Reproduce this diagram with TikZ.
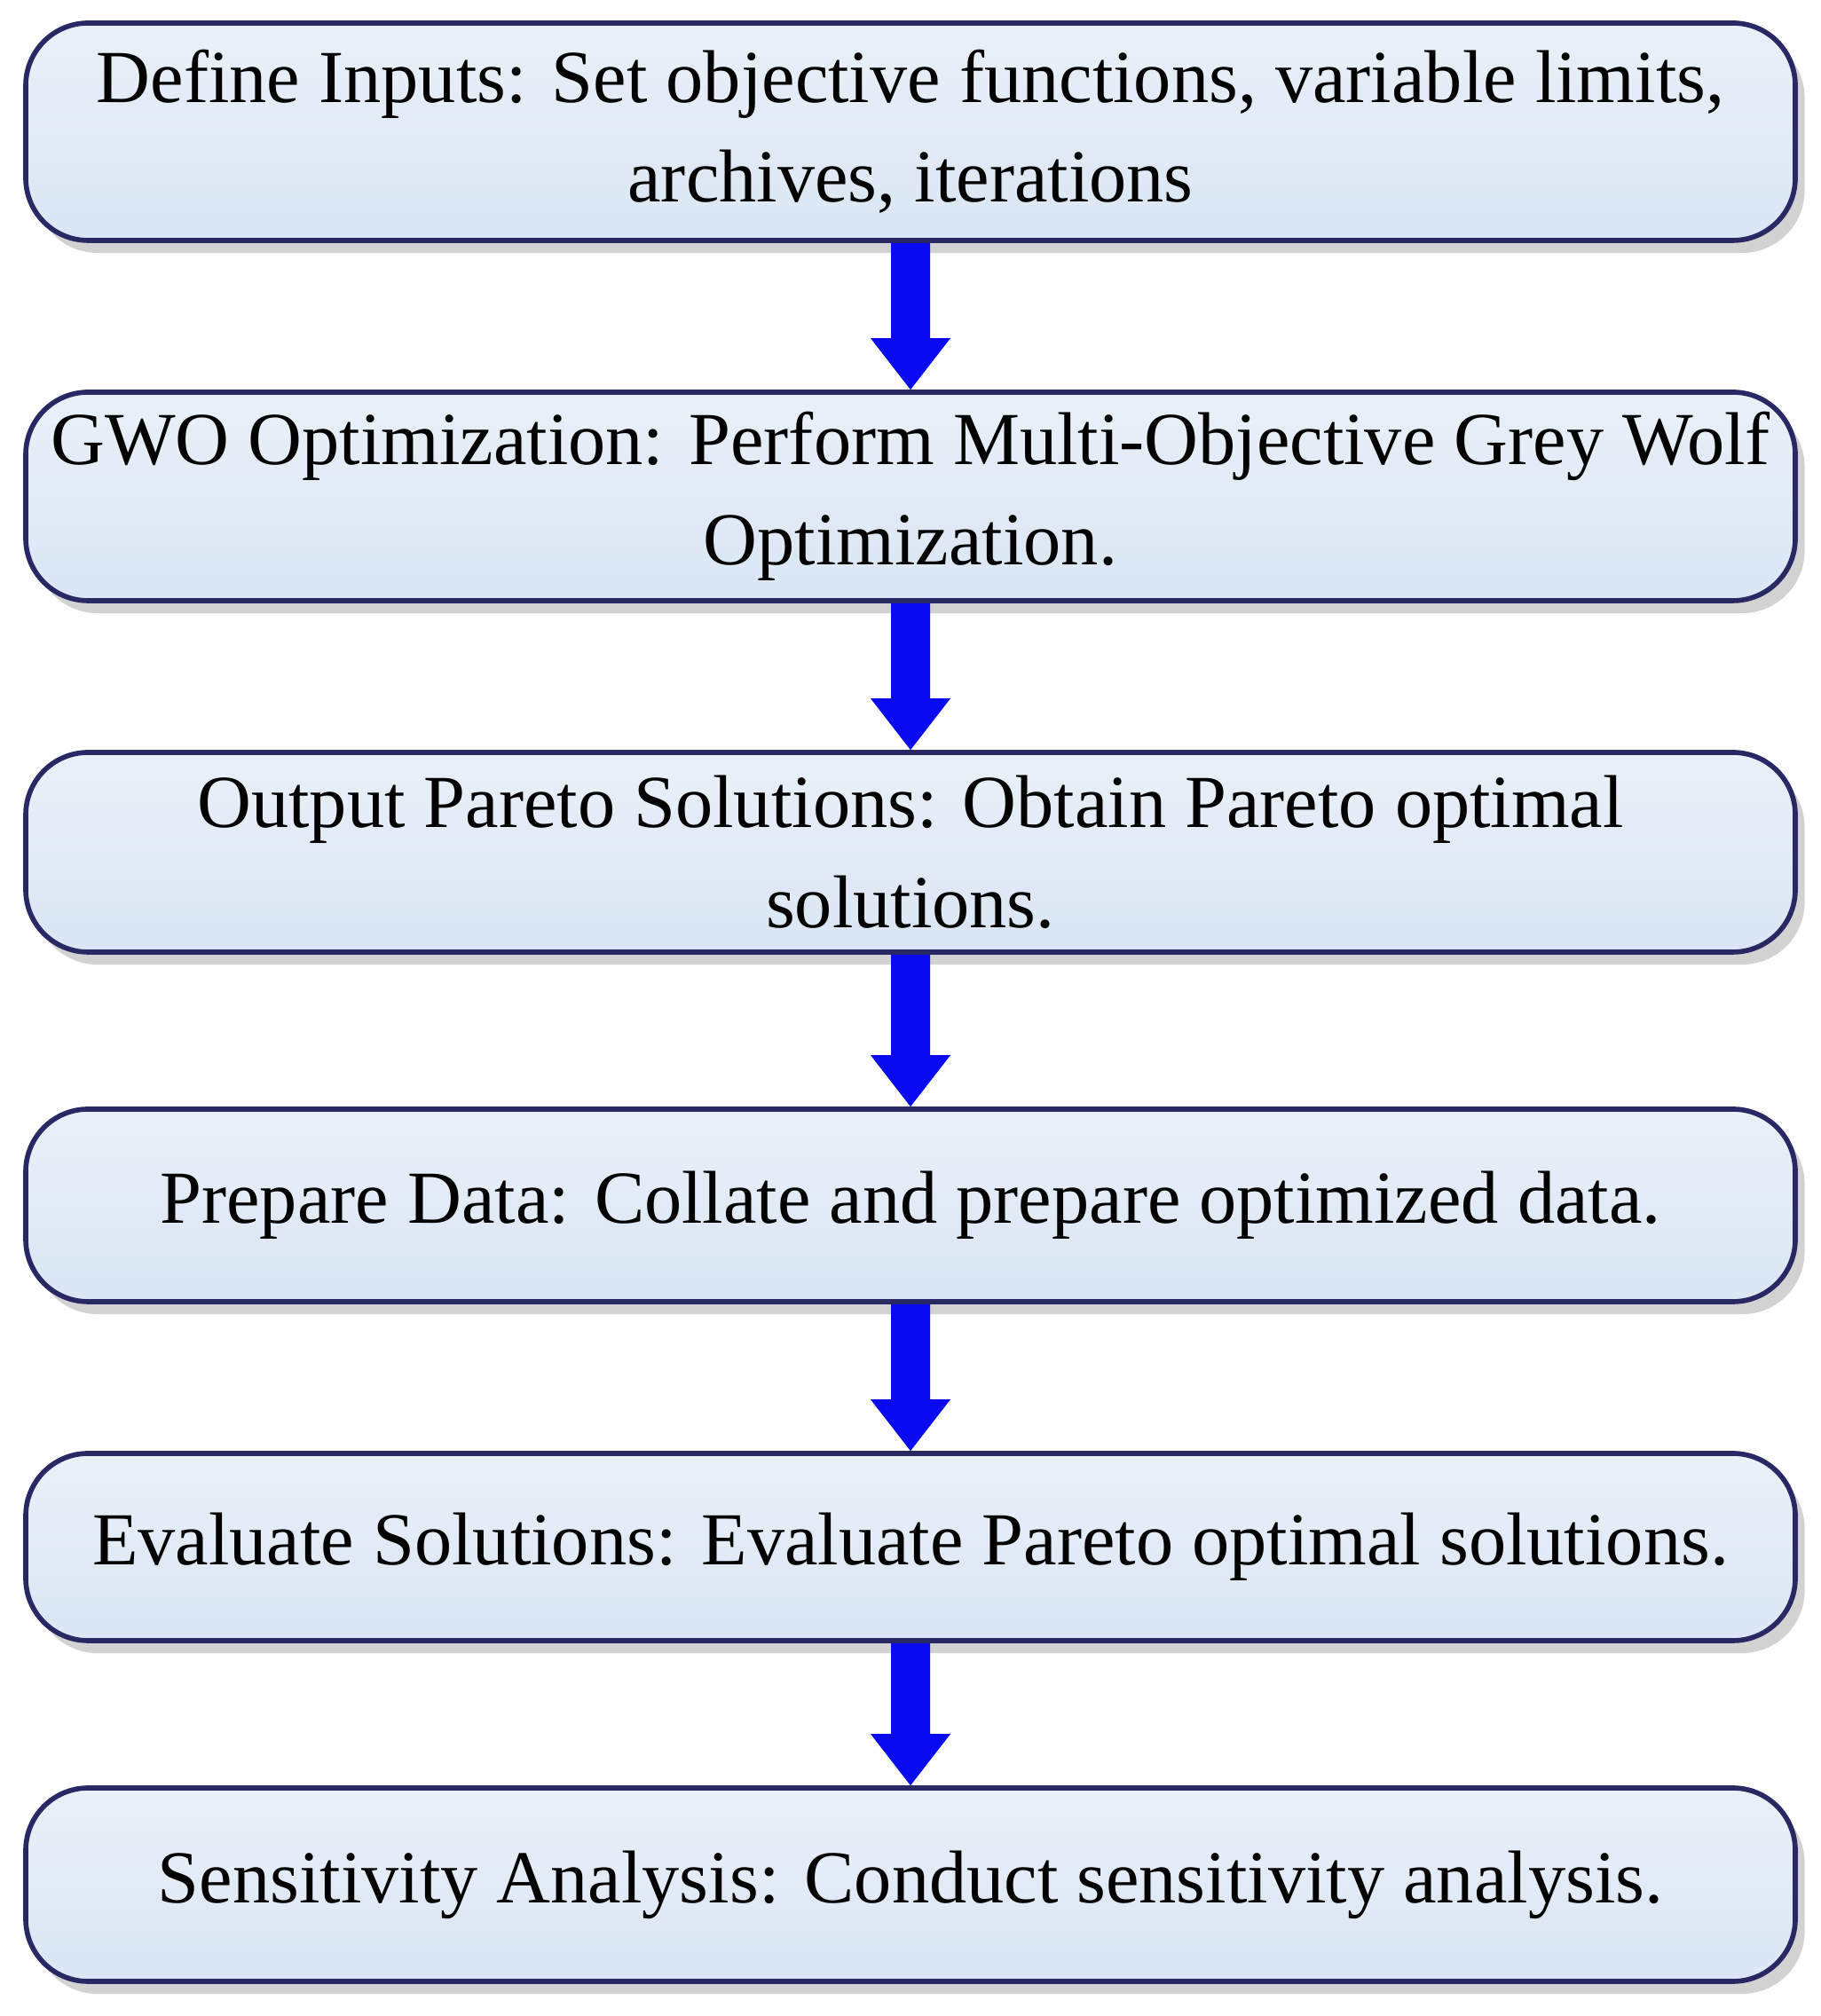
\documentclass[tikz,border=0pt]{standalone}
\usepackage{fontspec}
\setmainfont{Liberation Serif}
\usetikzlibrary{shadows,calc}
\definecolor{boxfill}{RGB}{218,230,244}
\definecolor{boxline}{RGB}{40,40,100}
\definecolor{arr}{RGB}{10,10,240}
\tikzset{
  stepbox/.style={draw=boxline, line width=1.6pt, rounded corners=20pt, top color=boxfill!60!white, bottom color=boxfill,
    drop shadow={shadow xshift=3pt, shadow yshift=-4pt, fill=black!35},
    minimum width=19.94cm, align=center, font=\fontsize{24}{32}\selectfont, inner sep=0pt},
  bigarrow/.style={fill=arr, draw=none}
}
\newcommand{\myarrow}[2]{%
  \fill[bigarrow] ([xshift=-0.22cm]#1.south) -- ([xshift=-0.22cm]$(#2.north)+(0,0.58)$) -- ([xshift=-0.45cm]$(#2.north)+(0,0.58)$)
   -- (#2.north) -- ([xshift=0.45cm]$(#2.north)+(0,0.58)$) -- ([xshift=0.22cm]$(#2.north)+(0,0.58)$) -- ([xshift=0.22cm]#1.south) -- cycle;}
\begin{document}
\begin{tikzpicture}
\useasboundingbox (0,0) rectangle (20.51,22.72);
\node[stepbox, minimum height=2.45cm] (b1) at (10.26,{22.72-1.485}) {Define Inputs: Set objective functions, variable limits,\\archives, iterations};
\node[stepbox, minimum height=2.35cm] (b2) at (10.26,{22.72-5.595}) {GWO Optimization: Perform Multi-Objective Grey Wolf\\Optimization.};
\node[stepbox, minimum height=2.25cm] (b3) at (10.26,{22.72-9.605}) {Output Pareto Solutions: Obtain Pareto optimal\\solutions.};
\node[stepbox, minimum height=2.17cm] (b4) at (10.26,{22.72-13.585}) {Prepare Data: Collate and prepare optimized data.};
\node[stepbox, minimum height=2.11cm] (b5) at (10.26,{22.72-17.435}) {Evaluate Solutions: Evaluate Pareto optimal solutions.};
\node[stepbox, minimum height=2.18cm] (b6) at (10.26,{22.72-21.24}) {Sensitivity Analysis: Conduct sensitivity analysis.};
\myarrow{b1}{b2}
\myarrow{b2}{b3}
\myarrow{b3}{b4}
\myarrow{b4}{b5}
\myarrow{b5}{b6}
\end{tikzpicture}
\end{document}
